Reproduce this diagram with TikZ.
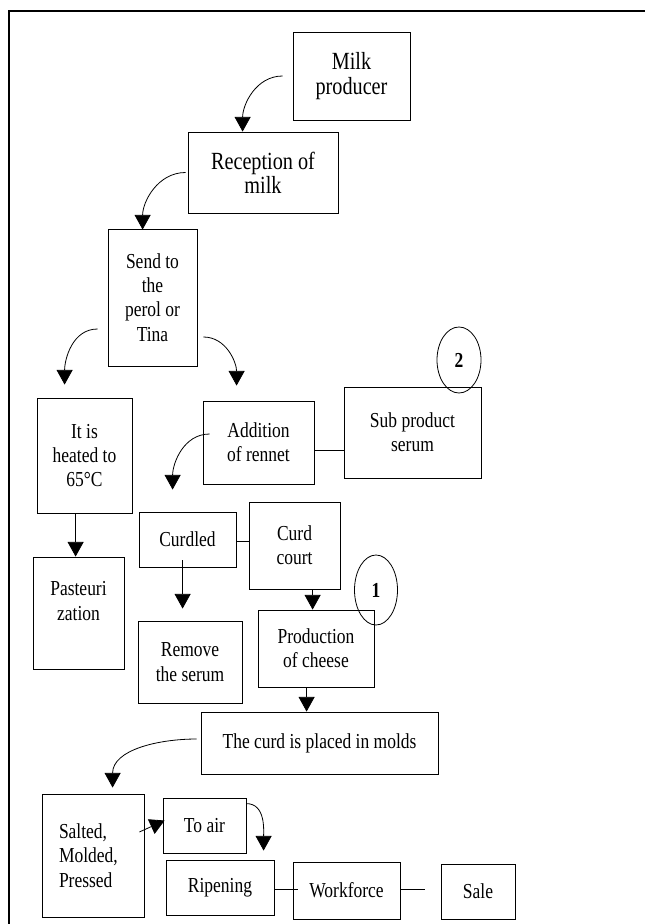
\documentclass[tikz,border=0pt]{standalone}
\usepackage{fontspec}
\setmainfont[FakeStretch=0.82]{Liberation Serif}
\usepackage{tikz}
\usetikzlibrary{arrows.meta}
\usetikzlibrary{calc}
\usetikzlibrary{shapes.geometric}
\newlength{\unitpx}
\setlength{\unitpx}{0.75pt}
\tikzset{
  blk/.style 2 args={draw, line width=0.6pt, align=center, inner sep=0pt,
    minimum width=#1\unitpx, minimum height=#2\unitpx},
  num/.style 2 args={draw, ellipse, line width=0.6pt, inner sep=0pt, font=\bfseries,
    minimum width=#1\unitpx, minimum height=#2\unitpx},
  big/.style={font=\fontsize{18.5}{18.2}\selectfont},
  arr/.style={-{Triangle[length=11pt,width=12pt]}, line width=0.6pt},
  ln/.style={line width=0.6pt}
}
\begin{document}
\fontsize{16}{18.2}\selectfont
\begin{tikzpicture}[x=0.75pt, y=-0.75pt]

    \useasboundingbox (0,0) rectangle (645,924);
    \draw [line width=1.2pt] (9,924) -- (9,11) -- (645,11);

    % receiving the milk
    \node [blk={117}{88}, big] (prod) at (351.5,76) {Milk\\producer};
    \node [blk={150}{81}, big] (recep) at (263,172.5) {Reception of\\milk};
    \node [blk={89}{137}] (send) at (152.5,297.5) {Send to\\the\\perol or\\Tina};
    \node [blk={95}{115}] (heat) at (84.5,455.5) {It is\\heated to\\65°C};
    \node [blk={91}{112}] (pasteur) at (78.5,613) {Pasteuri\\zation\\\mbox{}};

    % rennet branch
    \node [blk={111}{83}] (rennet) at (258.5,442.5) {Addition\\of rennet};
    \node [blk={137}{91}] (serum) at (412.5,432.5) {Sub product\\serum};
    \node [num={44}{66}] (n2) at (459,360) {2};
    \node [blk={97}{55}] (curdled) at (187.5,539.5) {Curdled};
    \node [blk={91}{87}] (court) at (294.5,545.5) {Curd\\court};
    \node [blk={104}{82}] (remove) at (190,662) {Remove\\the serum};
    \node [blk={116}{77}] (cheese) at (316,648.5) {Production\\of cheese};
    \node [num={43}{70}] (n1) at (376,590) {1};

    % molds and ripening
    \node [blk={237}{62}] (molds) at (319.5,743) {The curd is placed in molds};
    \node [blk={102}{123}, align=left, text width=68\unitpx, inner xsep=17\unitpx] (salted) at (93,855.5) {Salted,\\Molded,\\Pressed};
    \node [blk={83}{55}] (toair) at (204.5,825.5) {To air};
    \node [blk={108}{55}] (ripen) at (220,887.5) {Ripening};
    \node [blk={107}{57}] (work) at (346.5,890.5) {Workforce};
    \node [blk={74}{55}] (sale) at (478,891.5) {Sale};

    \draw [arr] ([xshift=-10\unitpx]prod.west) to[out=180, in=90] ([shift={(55,0)}]recep.north west);
    \draw [arr] ([xshift=-2\unitpx]recep.west) to[out=180, in=90] ([shift={(35,1)}]send.north west);
    \draw [arr] ([shift={(-10,31.5)}]send.west) to[out=180, in=90] ([shift={(28,-13)}]heat.north west);
    \draw [arr] ([shift={(6,39.5)}]send.east) to[out=0, in=90] ([shift={(34,-15)}]rennet.north west);
    \draw [arr] ([shift={(39,0)}]heat.south west) -- ([shift={(43,0)}]pasteur.north west);
    \draw [arr] ([shift={(7,-8.5)}]rennet.west) to[out=180, in=90] ([shift={(34,-22)}]curdled.north west);
    \draw [arr] ([shift={(44,-7)}]curdled.south west) -- ([shift={(45,-12)}]remove.north west);
    \draw [arr] ([shift={(64,0)}]court.south west) -- ([shift={(55,0)}]cheese.north west);
    \draw [arr] ([shift={(49,0)}]cheese.south west) -- ([shift={(106,0)}]molds.north west);
    \draw [arr] ([shift={(-4,-4)}]molds.west) to[out=180, in=90] ([shift={(71,-6)}]salted.north west);
    \draw [arr] ([shift={(-5,-23.5)}]salted.east) -- ([shift={(2,-5)}]toair.west);
    \draw [arr] ([shift={(0,6)}]toair.north east) to[out=0, in=90] ([shift={(98,-9)}]ripen.north west);

    \draw [ln] ([shift={(0,7.5)}]rennet.east) -- ([shift={(0,17.5)}]serum.west);
    \draw [ln] ([shift={(0,1.5)}]curdled.east) -- ([shift={(0,-4.5)}]court.west);
    \draw [ln] ([shift={(0,1.5)}]ripen.east) -- ([shift={(5,-1.5)}]work.west);
    \draw [ln] ([shift={(0,-1.5)}]work.east) -- ([shift={(-16,-2.5)}]sale.west);

  \end{tikzpicture}
\end{document}
